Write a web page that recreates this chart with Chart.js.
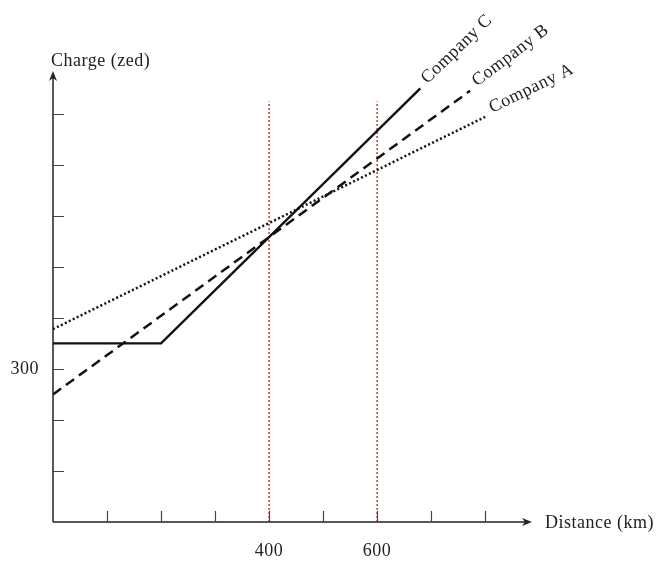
<!DOCTYPE html>
<html>
<head>
<meta charset="utf-8">
<script src="https://cdn.jsdelivr.net/npm/chart.js@4.4.1/dist/chart.umd.min.js"></script>
<style>
  html, body { margin: 0; padding: 0; background: #fff; }
  #wrap { width: 657px; height: 562px; }
</style>
</head>
<body>
<div id="wrap"><canvas id="chart" width="657" height="562"></canvas></div>
<script>
// distance in km, charge in zed
var distA = [0, 800];
var chargeA = [378, 794];
var distB = [0, 772];
var chargeB = [250, 845];
var distC = [0, 200, 680];
var chargeC = [350, 350, 850];

var markers = [400, 600];       // red dotted verticals
var markerTop = 824;
var xTicks = [100, 200, 300, 400, 500, 600, 700, 800];
var yTicks = [100, 200, 300, 400, 500, 600, 700, 800];
var xLabels = [400, 600];
var yLabels = [300];

var companyNames = ['Company A', 'Company B', 'Company C'];
var labelAngles = [-26, -37, -44];

var FONT = '18px "Liberation Serif", "Times New Roman", serif';

function pts(xs, ys) {
  return xs.map(function (x, i) { return { x: x, y: ys[i] }; });
}

var datasets = [
  { label: 'Company A', data: pts(distA, chargeA), borderColor: '#111', borderWidth: 2.5, borderDash: [2, 2.4] },
  { label: 'Company B', data: pts(distB, chargeB), borderColor: '#111', borderWidth: 2.5, borderDash: [10, 6] },
  { label: 'Company C', data: pts(distC, chargeC), borderColor: '#111', borderWidth: 2.4 }
];
markers.forEach(function (m) {
  datasets.push({
    label: 'marker ' + m,
    data: [{ x: m, y: 0 }, { x: m, y: markerTop }],
    borderColor: '#c8302a', borderWidth: 1.4, borderDash: [2, 2]
  });
});

// axes, ticks, arrows and texts drawn on top of the chart scales
var axesPlugin = {
  id: 'axes',
  afterDatasetsDraw: function (chart) {
    var ctx = chart.ctx;
    var xs = chart.scales.x, ys = chart.scales.y;
    var x0 = xs.getPixelForValue(0), y0 = ys.getPixelForValue(0);
    var xEnd = xs.getPixelForValue(xs.max), yEnd = ys.getPixelForValue(ys.max);
    ctx.save();
    ctx.strokeStyle = '#222';
    ctx.fillStyle = '#222';
    ctx.lineWidth = 1.5;
    ctx.beginPath();
    ctx.moveTo(x0, y0); ctx.lineTo(xEnd - 2, y0);
    ctx.moveTo(x0, y0); ctx.lineTo(x0, yEnd + 2);
    ctx.stroke();
    // arrow heads
    ctx.beginPath();
    ctx.moveTo(xEnd + 2, y0); ctx.lineTo(xEnd - 8, y0 - 4); ctx.lineTo(xEnd - 5, y0); ctx.lineTo(xEnd - 8, y0 + 4);
    ctx.closePath(); ctx.fill();
    ctx.beginPath();
    ctx.moveTo(x0, yEnd - 2); ctx.lineTo(x0 - 4, yEnd + 8); ctx.lineTo(x0, yEnd + 5); ctx.lineTo(x0 + 4, yEnd + 8);
    ctx.closePath(); ctx.fill();
    // inside ticks
    ctx.lineWidth = 1.2;
    ctx.strokeStyle = '#444';
    ctx.beginPath();
    xTicks.forEach(function (t) {
      var px = Math.round(xs.getPixelForValue(t)) + 0.5;
      ctx.moveTo(px, y0); ctx.lineTo(px, y0 - 11);
    });
    yTicks.forEach(function (t) {
      var py = Math.round(ys.getPixelForValue(t)) + 0.5;
      ctx.moveTo(x0, py); ctx.lineTo(x0 + 11, py);
    });
    ctx.stroke();
    // tick labels
    ctx.font = FONT;
    ctx.letterSpacing = '0.5px';
    ctx.fillStyle = '#222';
    ctx.textAlign = 'center';
    ctx.textBaseline = 'middle';
    xLabels.forEach(function (t) {
      ctx.fillText(String(t), xs.getPixelForValue(t), y0 + 29);
    });
    ctx.textAlign = 'right';
    yLabels.forEach(function (t) {
      ctx.fillText(String(t), x0 - 14, ys.getPixelForValue(t));
    });
    // axis titles
    ctx.textAlign = 'left';
    ctx.fillText('Distance (km)', xEnd + 15, y0 + 1);
    ctx.fillText('Charge (zed)', x0 - 2, yEnd - 12);
    // company labels at line ends
    chart.data.datasets.slice(0, 3).forEach(function (ds, i) {
      var last = ds.data[ds.data.length - 1];
      var px = xs.getPixelForValue(last.x), py = ys.getPixelForValue(last.y);
      var a = labelAngles[i] * Math.PI / 180;
      ctx.save();
      ctx.translate(px + 7, py - 4);
      ctx.rotate(a);
      ctx.textAlign = 'left';
      ctx.textBaseline = 'alphabetic';
      ctx.fillText(companyNames[i], 0, 0);
      ctx.restore();
    });
    ctx.restore();
  }
};

new Chart(document.getElementById('chart'), {
  type: 'line',
  data: { datasets: datasets },
  options: {
    responsive: false,
    animation: false,
    layout: { padding: { left: 53, right: 127, top: 73, bottom: 40 } },
    elements: { point: { radius: 0 }, line: { tension: 0, fill: false } },
    plugins: { legend: { display: false }, tooltip: { enabled: false } },
    scales: {
      x: { type: 'linear', min: 0, max: 883, display: false },
      y: { type: 'linear', min: 0, max: 880, display: false }
    }
  },
  plugins: [axesPlugin]
});
</script>
</body>
</html>
